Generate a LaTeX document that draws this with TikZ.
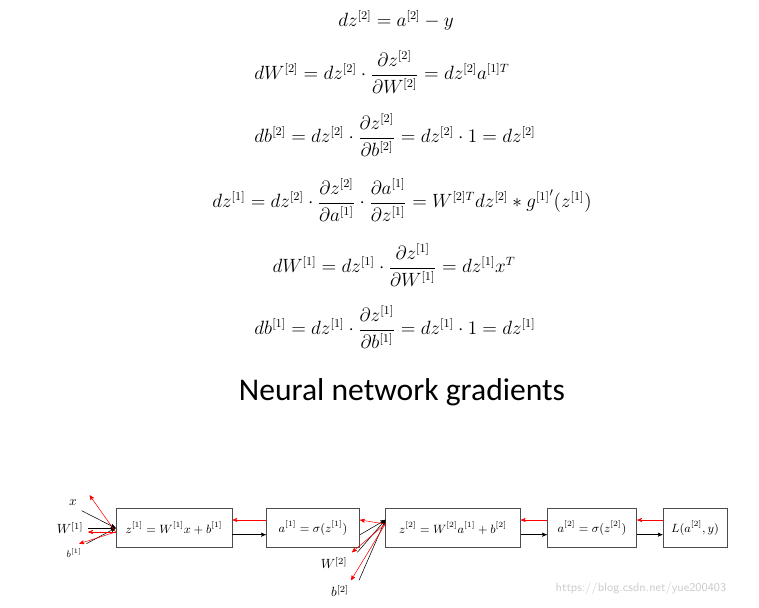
\documentclass[tikz,border=0pt]{standalone}
\usepackage{amsmath}
\usepackage{fontspec}
\newfontfamily\titlefont{Carlito}
\usetikzlibrary{arrows,positioning}

\begin{document}
\begin{tikzpicture}[x=0.75pt,y=-0.75pt,>=stealth',semithick]
        \tikzset{box/.style={draw=black!70,fill=none,inner sep=2pt,minimum height=29pt,font=\small},
                 fwd/.style={->,black,thin},
                 bwd/.style={->,red,thin},
                 eq/.style={font=\fontsize{13.5}{16}\selectfont}}
        \useasboundingbox (0,0) rectangle (759,607);

        % gradient equations
        \node[eq] (e1) at (396,20)  {$dz^{[2]} = a^{[2]} - y$};
        \node[eq] (e2) at (382,72)  {$dW^{[2]} = dz^{[2]}\cdot\dfrac{\partial z^{[2]}}{\partial W^{[2]}} = dz^{[2]}a^{[1]T}$};
        \node[eq] (e3) at (395,135) {$db^{[2]} = dz^{[2]}\cdot\dfrac{\partial z^{[2]}}{\partial b^{[2]}} = dz^{[2]}\cdot 1 = dz^{[2]}$};
        \node[eq] (e4) at (402,200) {$dz^{[1]} = dz^{[2]}\cdot\dfrac{\partial z^{[2]}}{\partial a^{[1]}}\cdot\dfrac{\partial a^{[1]}}{\partial z^{[1]}} = W^{[2]T}dz^{[2]} * {g^{[1]}}'(z^{[1]})$};
        \node[eq] (e5) at (394,265) {$dW^{[1]} = dz^{[1]}\cdot\dfrac{\partial z^{[1]}}{\partial W^{[1]}} = dz^{[1]}x^{T}$};
        \node[eq] (e6) at (395,327) {$db^{[1]} = dz^{[1]}\cdot\dfrac{\partial z^{[1]}}{\partial b^{[1]}} = dz^{[1]}\cdot 1 = dz^{[1]}$};

        \node (title) at (402,392) {\titlefont\fontsize{23.7}{28}\selectfont Neural network gradients};

        % computation graph
        \node[box,minimum width=87pt] (z1) at (174,528) {$z^{[1]} = W^{[1]}x + b^{[1]}$};
        \node[box,minimum width=70pt] (a1) at (313,528) {$a^{[1]} = \sigma(z^{[1]})$};
        \node[box,minimum width=101pt] (z2) at (453,528) {$z^{[2]} = W^{[2]}a^{[1]} + b^{[2]}$};
        \node[box,minimum width=67pt] (a2) at (592,528) {$a^{[2]} = \sigma(z^{[2]})$};
        \node[box,minimum width=48pt] (L)  at (695,528) {$L(a^{[2]},y)$};

        \node (x)  at (73,503) {$x$};
        \node (W1) at (70,528) {$W^{[1]}$};
        \node (b1) at (74,553) {\scriptsize$b^{[1]}$};
        \node (W2) at (334,563) {$W^{[2]}$};
        \node (b2) at (340,591) {$b^{[2]}$};

        \coordinate (in1) at (z1.west);
        \coordinate (in2) at ([yshift=6]z2.west);

        % forward pass
        \draw[fwd] (x.south east) -- (in1);
        \draw[fwd] (W1.east) -- (in1);
        \draw[fwd] (b1.north east) -- (in1);
        \draw[fwd] ([yshift=-5]z1.east) -- ([yshift=-5]a1.west);
        \draw[fwd] ([yshift=-5]a1.east) -- (in2);
        \draw[fwd] ([xshift=4]W2.north east) -- (in2);
        \draw[fwd] ([xshift=4]b2.north east) -- (in2);
        \draw[fwd] ([yshift=-5]z2.east) -- ([yshift=-5]a2.west);
        \draw[fwd] ([yshift=-5]a2.east) -- ([yshift=-5]L.west);

        % backward pass
        \draw[bwd] ([yshift=-3]in1) -- ([xshift=6]x.north east);
        \draw[bwd] ([yshift=-3]in1) -- ([yshift=-3]W1.east);
        \draw[bwd] ([yshift=-3]in1) -- ([xshift=4]b1.north);
        \draw[bwd] ([yshift=6]a1.west) -- ([yshift=6]z1.east);
        \draw[bwd] ([yshift=-3]in2) -- ([yshift=6]a1.east);
        \draw[bwd] ([yshift=-3]in2) -- (W2.north east);
        \draw[bwd] ([yshift=-3]in2) -- ([xshift=-2]b2.north east);
        \draw[bwd] ([yshift=6]a2.west) -- ([yshift=6]z2.east);
        \draw[bwd] ([yshift=6]L.west) -- ([yshift=6]a2.east);

        \node[text=black!20,font=\sffamily\small] (mark) at (641,588) {https://blog.csdn.net/yue200403};
\end{tikzpicture}
\end{document}
